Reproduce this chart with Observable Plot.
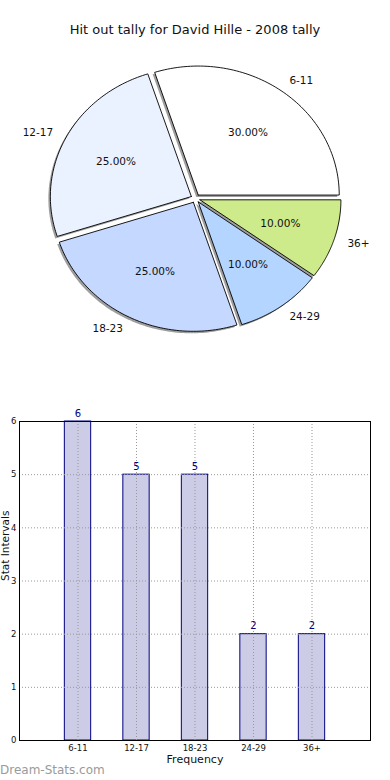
<!DOCTYPE html>
<html>
<head>
<meta charset="utf-8">
<script src="https://cdn.jsdelivr.net/npm/d3@7"></script>
<script src="https://cdn.jsdelivr.net/npm/@observablehq/plot@0.6"></script>
<style>
  html, body { margin: 0; padding: 0; background: #fff; }
  body { width: 390px; height: 780px; position: relative; overflow: hidden; font-family: "DejaVu Sans", sans-serif; }
  #title { position: absolute; left: 0; width: 390px; top: 22px; text-align: center; font-size: 13px; color: #111; line-height: 16px; }
  #pie { position: absolute; left: 0; top: 50px; }
  #bar { position: absolute; left: 0; top: 400px; }
  #wm { position: absolute; left: 0; top: 762px; font-size: 12px; color: #9a9a9a; line-height: 16px; }
</style>
</head>
<body>
<div id="title">Hit out tally for David Hille - 2008 tally</div>
<div id="pie"></div>
<div id="bar"></div>
<div id="wm">Dream-Stats.com</div>
<script>
const categories = ["6-11", "12-17", "18-23", "24-29", "36+"];
const counts = [6, 5, 5, 2, 2];
const pieColors = ["#ffffff", "#eaf1ff", "#c5d8ff", "#b3d5ff", "#cdeb8b"];
const yTicks = [0, 1, 2, 3, 4, 5, 6];

// ---------- Pie ----------
const total = d3.sum(counts);
const explode = 0.033;
const arcs = d3.pie().sort(null).value(d => d)
  .startAngle(Math.PI / 2).endAngle(Math.PI / 2 - 2 * Math.PI)(counts);

const wedgeRows = [];
const labelRows = [];
arcs.forEach((a, i) => {
  const t0 = Math.PI / 2 - a.startAngle;
  const t1 = Math.PI / 2 - a.endAngle;
  const tm = (t0 + t1) / 2;
  const ox = explode * Math.cos(tm), oy = explode * Math.sin(tm);
  const name = categories[i];
  wedgeRows.push({slice: name, color: pieColors[i], x: ox, y: oy});
  const n = 80;
  for (let k = 0; k <= n; k++) {
    const t = t0 + (t1 - t0) * k / n;
    wedgeRows.push({slice: name, color: pieColors[i], x: ox + Math.cos(t), y: oy + Math.sin(t)});
  }
  wedgeRows.push({slice: name, color: pieColors[i], x: ox, y: oy});
  labelRows.push({
    name,
    pct: (100 * counts[i] / total).toFixed(2) + "%",
    lx: ox + 1.1 * Math.cos(tm), ly: oy + 1.1 * Math.sin(tm),
    px: ox + 0.6 * Math.cos(tm), py: oy + 0.6 * Math.sin(tm)
  });
});

const rx = 141, ry = 129, cx = 195, cyTop = 148, pieH = 300;
const pie = Plot.plot({
  width: 390, height: pieH,
  margin: 0,
  style: {fontFamily: "DejaVu Sans", background: "transparent", overflow: "visible"},
  x: {domain: [-cx / rx, (390 - cx) / rx], axis: null},
  y: {domain: [-(pieH - cyTop) / ry, cyTop / ry], axis: null},
  color: {type: "identity"},
  marks: [
    Plot.line(wedgeRows, {x: "x", y: "y", z: "slice", fill: "#000", fillOpacity: 0.38, stroke: "none", dx: -2, dy: 2, curve: "linear"}),
    Plot.line(wedgeRows, {x: "x", y: "y", z: "slice", fill: "color", stroke: "#000", strokeWidth: 0.9, curve: "linear"}),
    Plot.text(labelRows.filter(d => d.lx >= 0), {x: "lx", y: "ly", text: "name", textAnchor: "start", fontSize: 10.5, fill: "#111"}),
    Plot.text(labelRows.filter(d => d.lx < 0), {x: "lx", y: "ly", text: "name", textAnchor: "end", fontSize: 10.5, fill: "#111"}),
    Plot.text(labelRows, {x: "px", y: "py", text: "pct", fontSize: 10.5, fill: "#111"})
  ]
});
document.getElementById("pie").appendChild(pie);

// ---------- Bars ----------
const barRows = categories.map((c, i) => ({i, cat: c, count: counts[i]}));
const barW = 0.45;
const bar = Plot.plot({
  width: 390, height: 380,
  marginTop: 21, marginBottom: 40, marginLeft: 19, marginRight: 20,
  style: {fontFamily: "DejaVu Sans", background: "transparent", overflow: "visible", color: "#111"},
  x: {domain: [-1, 5]},
  y: {domain: [0, 6]},
  marks: [
    Plot.rectY(barRows, {x1: d => d.i - barW / 2, x2: d => d.i + barW / 2, y: "count", fill: "#ccccE6", stroke: "#000080", strokeWidth: 1, inset: 0}),
    Plot.gridY(yTicks, {stroke: "#999", strokeOpacity: 1, strokeDasharray: "1,2", strokeWidth: 1}),
    Plot.gridX(barRows.map(d => d.i), {stroke: "#999", strokeOpacity: 1, strokeDasharray: "1,2", strokeWidth: 1}),
    Plot.frame({stroke: "#000", strokeWidth: 1}),
    Plot.axisY(yTicks, {tickSize: 0, tickPadding: 3, fontSize: 8.5, label: null, tickFormat: d => String(d)}),
    Plot.axisX(barRows.map(d => d.i), {tickSize: 0, tickPadding: 4, fontSize: 8.5, label: null, tickFormat: i => categories[i]}),
    Plot.text(barRows, {x: "i", y: "count", text: d => String(d.count), dy: -8, fill: "#000080", fontSize: 10}),
    Plot.text(["Frequency"], {frameAnchor: "bottom", dy: 22, fontSize: 11, fill: "#111"}),
    Plot.text(["Stat Intervals"], {frameAnchor: "left", rotate: -90, dx: -13.5, fontSize: 10.5, fill: "#111"})
  ]
});
document.getElementById("bar").appendChild(bar);
</script>
</body>
</html>
